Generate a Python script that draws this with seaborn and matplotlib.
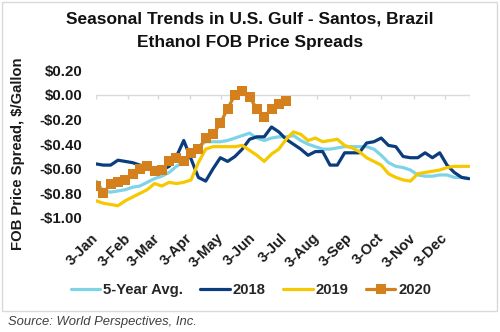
import numpy as np
import pandas as pd
import matplotlib
matplotlib.use("Agg")
import matplotlib.pyplot as plt
from matplotlib.lines import Line2D
from matplotlib.patches import Rectangle
import seaborn as sns

# ---- data (weekly, starting 3-Jan) ----
avg5 = [-0.70, -0.78, -0.79, -0.78, -0.77, -0.75, -0.74, -0.71, -0.68, -0.66,
        -0.63, -0.58, -0.54, -0.47, -0.42, -0.38, -0.38, -0.38, -0.37, -0.35,
        -0.33, -0.31, -0.35, -0.37, -0.35, -0.34, -0.34, -0.33, -0.37, -0.40,
        -0.42, -0.44, -0.44, -0.43, -0.42, -0.42, -0.42, -0.42, -0.44, -0.49,
        -0.55, -0.58, -0.59, -0.61, -0.65, -0.66, -0.66, -0.65, -0.65, -0.67,
        -0.67, -0.68]
y2018 = [-0.56, -0.57, -0.57, -0.53, -0.54, -0.55, -0.57, -0.58, -0.60, -0.61,
         -0.58, -0.50, -0.37, -0.52, -0.67, -0.70, -0.60, -0.51, -0.54, -0.50,
         -0.44, -0.36, -0.34, -0.34, -0.26, -0.30, -0.36, -0.40, -0.44, -0.49,
         -0.46, -0.46, -0.57, -0.57, -0.47, -0.47, -0.47, -0.39, -0.38, -0.35,
         -0.41, -0.42, -0.50, -0.51, -0.51, -0.47, -0.51, -0.47, -0.57, -0.63,
         -0.67, -0.68]
y2019 = [-0.86, -0.88, -0.89, -0.90, -0.86, -0.83, -0.80, -0.77, -0.72, -0.74,
         -0.71, -0.72, -0.71, -0.69, -0.55, -0.44, -0.42, -0.42, -0.42, -0.42,
         -0.41, -0.45, -0.49, -0.54, -0.48, -0.44, -0.36, -0.30, -0.32, -0.37,
         -0.35, -0.38, -0.37, -0.36, -0.41, -0.43, -0.46, -0.51, -0.54, -0.57,
         -0.64, -0.67, -0.69, -0.70, -0.64, -0.63, -0.62, -0.61, -0.59, -0.58,
         -0.58, -0.58]
y2020 = [-0.74, -0.80, -0.72, -0.71, -0.69, -0.64, -0.60, -0.58, -0.62, -0.61,
         -0.54, -0.51, -0.54, -0.47, -0.44, -0.35, -0.32, -0.23, -0.11, 0.00,
         0.03, -0.02, -0.11, -0.18, -0.11, -0.07, -0.05]

month_labels = ["3-Jan", "3-Feb", "3-Mar", "3-Apr", "3-May", "3-Jun",
                "3-Jul", "3-Aug", "3-Sep", "3-Oct", "3-Nov", "3-Dec"]
month_days = [0, 31, 59, 90, 120, 151, 181, 212, 243, 273, 304, 334]
yticks = [-1.0, -0.8, -0.6, -0.4, -0.2, 0.0, 0.2]

series_names = ["5-Year Avg.", "2018", "2019", "2020"]
colors = {"5-Year Avg.": "#7FD3E6", "2018": "#0B3C7D",
          "2019": "#F5C800", "2020": "#D4801C"}

rows = []
for name, vals in zip(series_names, [avg5, y2018, y2019, y2020]):
    for i, v in enumerate(vals):
        rows.append({"day": 7 * i, "value": v, "series": name})
df = pd.DataFrame(rows)

sns.set_style("white")
plt.rcParams["font.family"] = ["Liberation Sans", "DejaVu Sans"]

fig = plt.figure(figsize=(5.0, 3.32), dpi=100)
ax = fig.add_axes([96 / 500, 1 - 218 / 332, (470 - 96) / 500, (218 - 70.4) / 332])

# zero axis line with tick marks
ax.axhline(0, color="#D9D9D9", lw=1.0, zorder=1)
ax.vlines(month_days + [358], -0.035, 0, color="#D9D9D9", lw=1.0, zorder=1)

for name in ["5-Year Avg.", "2018", "2019"]:
    sns.lineplot(data=df[df.series == name], x="day", y="value", ax=ax,
                 color=colors[name], lw=2.3, legend=False, zorder=3)
sns.lineplot(data=df[df.series == "2020"], x="day", y="value", ax=ax,
             color=colors["2020"], lw=2.3, marker="s", markersize=6.5,
             markeredgewidth=0, legend=False, zorder=4)

ax.set_xlim(0, 358)
ax.set_ylim(-1.0, 0.2)
ax.set_xticks(month_days)
ax.set_xticklabels(month_labels, rotation=45, ha="right", va="center",
                   rotation_mode="anchor", fontsize=10.5, fontweight="bold",
                   color="#1a1a1a")
ax.set_yticks(yticks)
ax.set_yticklabels([("-$%.2f" % abs(v)) if v < -1e-9 else ("$%.2f" % abs(v)) for v in yticks],
                   fontsize=10.8, fontweight="bold", color="#1a1a1a")
ax.tick_params(axis="x", length=0, pad=13)
ax.tick_params(axis="y", length=0, pad=10)
ax.set_xlabel("")
ax.set_ylabel("")
for s in ax.spines.values():
    s.set_visible(False)
ax.grid(False)

# texts
fig.text(0.5, 1 - 19 / 332, "Seasonal Trends in U.S. Gulf - Santos, Brazil",
         ha="center", va="center", fontsize=12.5, fontweight="bold", color="#111111")
fig.text(0.5, 1 - 43 / 332, "Ethanol FOB Price Spreads",
         ha="center", va="center", fontsize=12.5, fontweight="bold", color="#111111")
fig.text(18 / 500, 1 - 154 / 332, "FOB Price Spread, $/Gallon", rotation=90,
         ha="center", va="center", fontsize=10.7, fontweight="bold", color="#1a1a1a")
fig.text(8 / 500, 1 - 322 / 332, "Source: World Perspectives, Inc.",
         ha="left", va="center", fontsize=9.4, fontstyle="italic", color="#404040")

handles = [Line2D([], [], color=colors[n], lw=2.3) for n in series_names[:3]]
handles.append(Line2D([], [], color=colors["2020"], lw=2.3, marker="s",
                      markersize=6.5, markeredgewidth=0))
leg = fig.legend(handles, series_names, loc="center", ncol=4,
                 bbox_to_anchor=(251 / 500, 1 - 290 / 332), frameon=False,
                 handlelength=2.0, handletextpad=0.2, columnspacing=1.15,
                 prop={"weight": "bold", "size": 10.7})

fig.patches.append(Rectangle((2 / 500, 1 - 311 / 332), 495 / 500, 309 / 332,
                             transform=fig.transFigure, fill=False,
                             edgecolor="#D9D9D9", lw=1.0))

fig.savefig("out.png", dpi=100)
